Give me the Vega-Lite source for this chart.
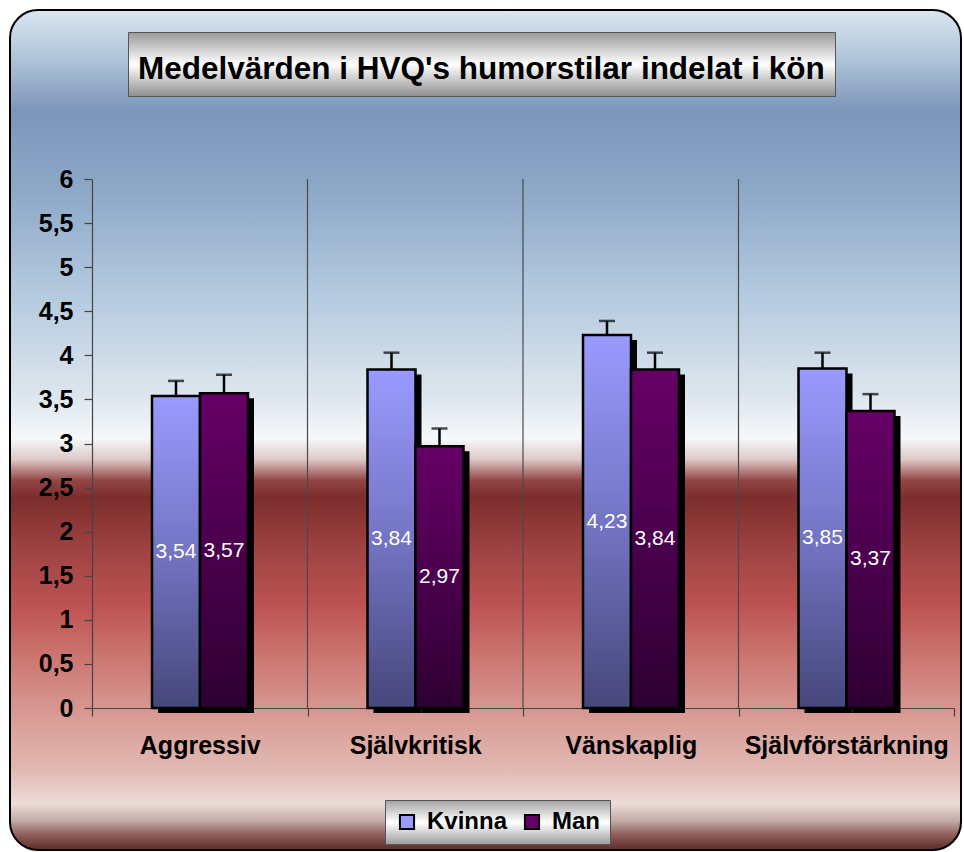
{
  "$schema": "https://vega.github.io/schema/vega-lite/v6.json",
  "width": 951,
  "height": 840,
  "autosize": {"type": "none"},
  "padding": {"left": 10, "top": 10, "right": 3, "bottom": 2},
  "background": "white",
  "config": {
    "locale": {"number": {"decimal": ",", "thousands": " ", "grouping": [3], "currency": ["", " kr"]}},
    "font": "Liberation Sans",
    "axisX": {"offset": -142, "tickBand": "extent", "grid": false, "domainColor": "#444444", "domainWidth": 1.2, "tickColor": "#444444", "tickWidth": 1.2, "tickSize": 8, "labelFont": "Liberation Sans", "labelFontSize": 25, "labelFontWeight": "bold", "labelColor": "black", "labelPadding": 17, "labelAngle": 0, "labelLimit": 400},
    "view": {
      "fill": {"gradient": "linear", "x1": 0, "y1": 0, "x2": 0, "y2": 1, "stops": [
        {"offset": 0.0, "color": "#dae6f0"},
        {"offset": 0.06, "color": "#aec3d8"},
        {"offset": 0.12, "color": "#7c95b9"},
        {"offset": 0.22, "color": "#8eaac8"},
        {"offset": 0.34, "color": "#b5cadf"},
        {"offset": 0.46, "color": "#dde6ee"},
        {"offset": 0.51, "color": "#f6f8fa"},
        {"offset": 0.535, "color": "#dcc9c8"},
        {"offset": 0.56, "color": "#934646"},
        {"offset": 0.58, "color": "#7c2d2c"},
        {"offset": 0.645, "color": "#a04443"},
        {"offset": 0.71, "color": "#bd5352"},
        {"offset": 0.775, "color": "#cd7873"},
        {"offset": 0.835, "color": "#d89892"},
        {"offset": 0.905, "color": "#e2b9b3"},
        {"offset": 0.945, "color": "#ecdcd7"},
        {"offset": 0.965, "color": "#c4aba7"},
        {"offset": 0.982, "color": "#8e5f5a"},
        {"offset": 1.0, "color": "#5a2a27"}
      ]},
      "stroke": "black",
      "strokeWidth": 2,
      "cornerRadius": 28
    }
  },
  "data": {"values": [
    {"stil": "Aggressiv", "kon": "Kvinna", "medel": 3.54, "ovre": 3.71},
    {"stil": "Aggressiv", "kon": "Man", "medel": 3.57, "ovre": 3.78},
    {"stil": "Självkritisk", "kon": "Kvinna", "medel": 3.84, "ovre": 4.03},
    {"stil": "Självkritisk", "kon": "Man", "medel": 2.97, "ovre": 3.17},
    {"stil": "Vänskaplig", "kon": "Kvinna", "medel": 4.23, "ovre": 4.39},
    {"stil": "Vänskaplig", "kon": "Man", "medel": 3.84, "ovre": 4.03},
    {"stil": "Självförstärkning", "kon": "Kvinna", "medel": 3.85, "ovre": 4.03},
    {"stil": "Självförstärkning", "kon": "Man", "medel": 3.37, "ovre": 3.56}
  ]},
  "resolve": {"scale": {"y": "independent", "xOffset": "independent"}},
  "layer": [
    {
      "transform": [{"filter": "datum.kon === 'Kvinna' && datum.stil !== 'Aggressiv'"}],
      "mark": {"type": "rule", "color": "#4a4a4a", "strokeWidth": 1.2},
      "encoding": {
        "x": {"field": "stil", "type": "nominal", "bandPosition": 0, "title": null,
              "scale": {"domain": ["Aggressiv", "Självkritisk", "Vänskaplig", "Självförstärkning"], "range": [82, 944], "paddingInner": 0, "paddingOuter": 0}},
        "y": {"datum": 0, "type": "quantitative", "axis": null, "scale": {"domain": [0, 6], "range": [698, 169], "nice": false}},
        "y2": {"datum": 6}
      }
    },
    {
      "mark": {"type": "bar", "fill": "black", "yOffset": 5, "y2Offset": 0},
      "encoding": {
        "x": {"field": "stil", "type": "nominal", "title": null,
              "scale": {"domain": ["Aggressiv", "Självkritisk", "Vänskaplig", "Självförstärkning"], "range": [82, 944], "paddingInner": 0, "paddingOuter": 0}},
        "xOffset": {"field": "kon", "type": "nominal", "scale": {"domain": ["Kvinna", "Man"], "range": [66, 162], "paddingInner": 0, "paddingOuter": 0}},
        "y": {"field": "medel", "type": "quantitative", "axis": null, "scale": {"domain": [0, 6], "range": [698, 169], "nice": false}}
      }
    },
    {
      "mark": {"type": "bar", "stroke": "black", "strokeWidth": 2.5},
      "encoding": {
        "x": {"field": "stil", "type": "nominal", "title": null,
              "scale": {"domain": ["Aggressiv", "Självkritisk", "Vänskaplig", "Självförstärkning"], "range": [82, 944], "paddingInner": 0, "paddingOuter": 0}},
        "xOffset": {"field": "kon", "type": "nominal", "scale": {"domain": ["Kvinna", "Man"], "range": [60, 156], "paddingInner": 0, "paddingOuter": 0}},
        "y": {"field": "medel", "type": "quantitative", "title": null,
              "scale": {"domain": [0, 6], "range": [698, 169], "nice": false},
              "axis": {"values": [0, 0.5, 1, 1.5, 2, 2.5, 3, 3.5, 4, 4.5, 5, 5.5, 6], "format": "~g", "offset": -82, "grid": false, "domainColor": "#444444", "domainWidth": 1.2, "tickColor": "#444444", "tickWidth": 1.2, "tickSize": 8, "labelFont": "Liberation Sans", "labelFontSize": 25, "labelFontWeight": "bold", "labelColor": "black", "labelPadding": 11}},
        "color": {
          "field": "kon", "type": "nominal",
          "scale": {"domain": ["Kvinna", "Man"], "range": ["#9999ff", "#660066"]},
          "condition": [
            {"test": "datum.kon === 'Kvinna'", "value": {"gradient": "linear", "x1": 0, "y1": 0, "x2": 0, "y2": 1, "stops": [{"offset": 0, "color": "#9a9aff"}, {"offset": 0.5, "color": "#7474c4"}, {"offset": 1, "color": "#46477a"}]}},
            {"test": "datum.kon === 'Man'", "value": {"gradient": "linear", "x1": 0, "y1": 0, "x2": 0, "y2": 1, "stops": [{"offset": 0, "color": "#660066"}, {"offset": 1, "color": "#2e0032"}]}}
          ],
          "legend": {
            "orient": "none", "legendX": 375, "legendY": 790, "direction": "horizontal", "title": null,
            "labelFont": "Liberation Sans", "labelFontSize": 24, "labelFontWeight": "bold", "labelColor": "black",
            "symbolType": "square", "symbolSize": 200, "symbolStrokeColor": "black", "symbolStrokeWidth": 2, "symbolOpacity": 1,
            "padding": 10, "strokeColor": "#555555", "labelOffset": 8, "columnPadding": 12,
            "fillColor": {"value": {"gradient": "linear", "x1": 0, "y1": 0, "x2": 0, "y2": 1, "stops": [{"offset": 0, "color": "#a4a4a4"}, {"offset": 0.5, "color": "#ffffff"}, {"offset": 1, "color": "#9c9c9c"}]}}
          }
        }
      }
    },
    {
      "mark": {"type": "rule", "color": "black", "strokeWidth": 2.5},
      "encoding": {
        "x": {"field": "stil", "type": "nominal", "title": null,
              "scale": {"domain": ["Aggressiv", "Självkritisk", "Vänskaplig", "Självförstärkning"], "range": [82, 944], "paddingInner": 0, "paddingOuter": 0}},
        "xOffset": {"field": "kon", "type": "nominal", "scale": {"domain": ["Kvinna", "Man"], "range": [60, 156], "paddingInner": 0, "paddingOuter": 0}},
        "y": {"field": "medel", "type": "quantitative", "axis": null, "scale": {"domain": [0, 6], "range": [698, 169], "nice": false}},
        "y2": {"field": "ovre"},
        "opacity": {
          "datum": "rubrik", "type": "nominal",
          "scale": {"range": [1]},
          "legend": {
            "orient": "none", "legendX": 118, "legendY": 22,
            "title": "Medelvärden i HVQ's humorstilar indelat i kön",
            "titleFont": "Liberation Sans", "titleFontSize": 31.5, "titleFontWeight": "bold", "titleColor": "black", "titleLimit": 1000,
            "titleOrient": "bottom", "titlePadding": 11,
            "labelExpr": "''", "labelFontSize": 1, "symbolSize": 0, "symbolOpacity": 0, "symbolStrokeWidth": 0,
            "padding": 10, "strokeColor": "#555555",
            "fillColor": {"value": {"gradient": "linear", "x1": 0, "y1": 0, "x2": 0, "y2": 1, "stops": [{"offset": 0, "color": "#9a9a9a"}, {"offset": 0.5, "color": "#ffffff"}, {"offset": 1, "color": "#8e8e8e"}]}}
          }
        }
      }
    },
    {
      "mark": {"type": "tick", "color": "black", "thickness": 2.5, "size": 16, "orient": "horizontal"},
      "encoding": {
        "x": {"field": "stil", "type": "nominal", "title": null,
              "scale": {"domain": ["Aggressiv", "Självkritisk", "Vänskaplig", "Självförstärkning"], "range": [82, 944], "paddingInner": 0, "paddingOuter": 0}},
        "xOffset": {"field": "kon", "type": "nominal", "scale": {"domain": ["Kvinna", "Man"], "range": [60, 156], "paddingInner": 0, "paddingOuter": 0}},
        "y": {"field": "ovre", "type": "quantitative", "axis": null, "scale": {"domain": [0, 6], "range": [698, 169], "nice": false}}
      }
    },
    {
      "mark": {"type": "text", "color": "white", "font": "Liberation Sans", "fontSize": 21, "baseline": "middle"},
      "encoding": {
        "x": {"field": "stil", "type": "nominal", "title": null,
              "scale": {"domain": ["Aggressiv", "Självkritisk", "Vänskaplig", "Självförstärkning"], "range": [82, 944], "paddingInner": 0, "paddingOuter": 0}},
        "xOffset": {"field": "kon", "type": "nominal", "scale": {"type": "point", "domain": ["Kvinna", "Man"], "range": [84, 132], "padding": 0}},
        "y": {"field": "medel", "type": "quantitative", "axis": null, "scale": {"domain": [0, 12], "range": [698, 169], "nice": false}},
        "text": {"field": "medel", "type": "quantitative", "format": ".2f"}
      }
    }
  ]
}
